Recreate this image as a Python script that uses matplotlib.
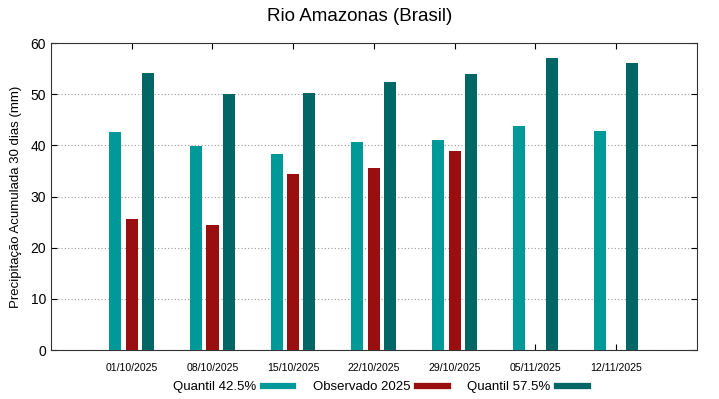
import numpy as np
import matplotlib
matplotlib.use('Agg')
import matplotlib.pyplot as plt
from matplotlib.lines import Line2D

datas = ['01/10/2025', '08/10/2025', '15/10/2025', '22/10/2025',
         '29/10/2025', '05/11/2025', '12/11/2025']
q425 = [42.6, 39.8, 38.4, 40.6, 41.1, 43.7, 42.8]
obs2025 = [25.6, 24.5, 34.4, 35.5, 38.9, np.nan, np.nan]
q575 = [54.2, 50.1, 50.3, 52.3, 54.0, 57.1, 56.1]

c_q1 = '#009999'
c_obs = '#990e0e'
c_q2 = '#006666'

plt.rcParams['font.family'] = ['Liberation Sans', 'DejaVu Sans']

fig = plt.figure(figsize=(7.19, 3.99), dpi=100)
ax = fig.add_axes([0.0709, 0.1228, 0.8985, 0.7694])

x = np.arange(1, len(datas) + 1)
w = 0.15
ax.bar(x - 0.205, q425, w, color=c_q1, zorder=3)
ax.bar(x, obs2025, w, color=c_obs, zorder=3)
ax.bar(x + 0.2, q575, w, color=c_q2, zorder=3)

ax.set_xlim(0, 8)
ax.set_ylim(0, 60)
ax.set_yticks(np.arange(0, 61, 10))
ax.set_xticks(x)
ax.set_xticklabels(datas, fontsize=7.6)
ax.tick_params(axis='y', labelsize=10, direction='in', right=True, length=4)
ax.tick_params(axis='x', direction='in', top=True, length=4, pad=9)
ax.grid(axis='y', color='#999999', linestyle=(0, (1, 2)), linewidth=0.8, zorder=0)
for s in ax.spines.values():
    s.set_linewidth(0.8)
    s.set_color('#333333')

ax.set_ylabel('Precipitação Acumulada 30 dias (mm)', fontsize=9.5, labelpad=6)
fig.suptitle('Rio Amazonas (Brasil)', fontsize=13.5, y=0.98)

handles = [Line2D([], [], color=c_q1, lw=4.5),
           Line2D([], [], color=c_obs, lw=4.5),
           Line2D([], [], color=c_q2, lw=4.5)]
fig.legend(handles, ['Quantil 42.5%', 'Observado 2025', 'Quantil 57.5%'],
           loc='center', bbox_to_anchor=(0.529, 0.030), ncol=3, frameon=False,
           markerfirst=False, fontsize=9.5, handlelength=2.3, columnspacing=1.5,
           handletextpad=0.5)

fig.savefig('out.png', dpi=100)
